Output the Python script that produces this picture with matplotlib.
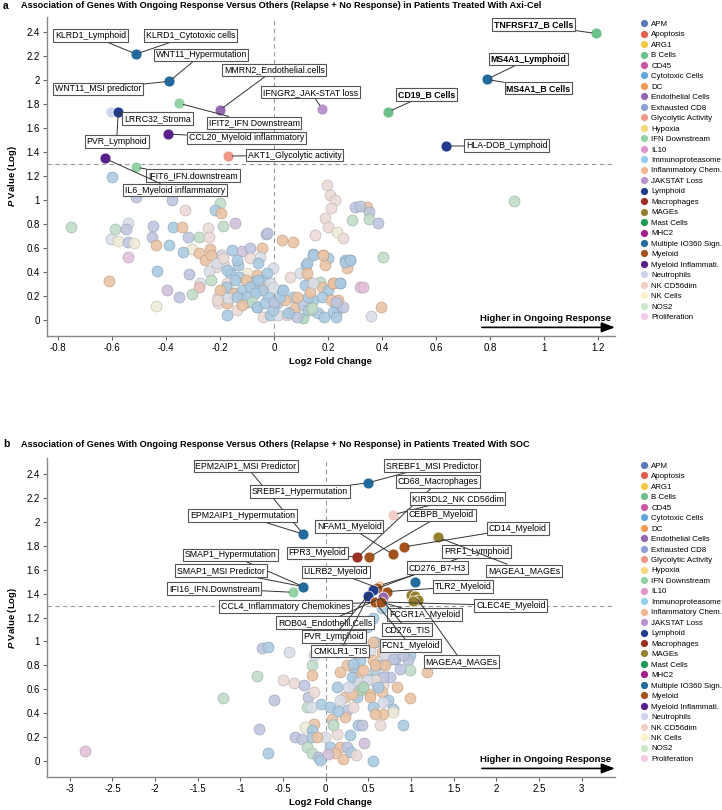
import matplotlib
matplotlib.use('Agg')
import numpy as np
from matplotlib import pyplot as plt
from matplotlib.lines import Line2D
from matplotlib.colors import to_rgb

plt.rcParams['font.family'] = ['Liberation Sans', 'DejaVu Sans']
plt.rcParams['mathtext.fontset'] = 'custom'
plt.rcParams['mathtext.bfit'] = 'Liberation Sans:italic:bold'

# 图例类别和颜色
categories = ['APM', 'Apoptosis', 'ARG1', 'B Cells', 'CD45', 'Cytotoxic Cells', 'DC',
              'Endothelial Cells', 'Exhausted CD8', 'Glycolytic Activity', 'Hypoxia',
              'IFN Downstream', 'IL10', 'Immunoproteasome', 'Inflammatory Chem.',
              'JAKSTAT Loss', 'Lymphoid', 'Macrophages', 'MAGEs', 'Mast Cells', 'MHC2',
              'Multiple IO360 Sign.', 'Myeloid', 'Myeloid Inflammati.', 'Neutrophils',
              'NK CD56dim', 'NK Cells', 'NOS2', 'Proliferation']
cat_colors = ['#5b78b8', '#e0604f', '#f3c845', '#6cc08a', '#c8589f', '#63a8dc', '#ef9a55',
              '#9466b0', '#8e9fd6', '#ef9a86', '#f6d77c', '#94d2a6', '#e196cc', '#93cdef',
              '#f2b790', '#b894cc', '#213c8c', '#9c2f23', '#958030', '#1f9a55', '#a2208c',
              '#226b9c', '#a2531e', '#58208a', '#cdd4ec', '#f2cec6', '#fbf2c6', '#cce8cc',
              '#f2cce6']
color_of = dict(zip(categories, cat_colors))

# 背景点的简写类别
short = {'lb': 'Cytotoxic Cells', 'lav': 'Exhausted CD8', 'lp': 'JAKSTAT Loss',
         'pe': 'DC', 'pg': 'IFN Downstream', 'pp': 'NK CD56dim',
         'py': 'NK Cells', 'w': 'Neutrophils', 'pk': 'IL10', 'sa': 'Glycolytic Activity',
         'g': 'B Cells'}

# ---------- a: Axi-Cel ----------
bg_a_x = [-0.600, -0.754, -0.514, -0.380, -0.201, -0.331, -0.220, -0.199, -0.541, -0.590,
          -0.549, -0.448, -0.374, -0.343, -0.244, -0.191, -0.144, -0.032, -0.605, -0.578,
          -0.541, -0.520, -0.454, -0.439, -0.389, -0.321, -0.278, -0.241, -0.304, -0.278,
          -0.237, -0.339, -0.542, -0.257, -0.198, -0.155, -0.118, -0.090, -0.047, -0.028,
          -0.090, -0.053, -0.133, -0.186, -0.217, -0.241, -0.164, -0.100, -0.065, -0.436,
          -0.315, -0.275, -0.235, -0.130, -0.611, -0.399, -0.278, -0.305, -0.353, -0.438,
          -0.207, -0.176, -0.158, -0.207, -0.176, -0.176, -0.139, -0.121, -0.084, -0.072,
          -0.041, -0.041, -0.016, -0.096, -0.065, -0.041, -0.016, -0.022, 0.009, 0.015,
          0.046, 0.058, 0.027, 0.070, 0.040, 0.077, 0.105, 0.107, 0.126, 0.144,
          0.138, 0.163, 0.126, 0.058, 0.095, 0.117, 0.130, 0.142, 0.182, 0.200,
          0.188, 0.169, 0.175, 0.200, 0.219, 0.225, 0.231, 0.256, 0.237, 0.243,
          0.262, 0.268, 0.280, 0.317, 0.299, 0.287, 0.194, 0.206, 0.225, 0.212,
          0.188, 0.200, 0.231, 0.256, 0.151, 0.027, 0.068, 0.889, 0.342, 0.318,
          0.352, 0.352, 0.385, 0.401, 0.330, 0.395, 0.358, -0.236, -0.195, -0.211,
          -0.174, -0.139, -0.191, -0.059, -0.146, -0.105, -0.179, -0.201, -0.149, -0.121,
          -0.090, -0.047, -0.006, -0.213, -0.170, -0.139, -0.102, -0.071, -0.084, -0.121,
          -0.065, -0.034, -0.006, 0.000, 0.021, 0.033, 0.083, 0.120, 0.120, 0.114,
          0.132, 0.145, 0.176, 0.144, 0.179, 0.216, 0.212, 0.227, 0.216, 0.228,
          0.185, 0.140, 0.083, 0.243, 0.262, 0.280, -0.006, -0.028, -0.059, 0.050]
bg_a_y = [1.190, 0.778, 1.028, 1.000, 0.972, 0.917, 0.917, 0.889, 0.811, 0.756,
          0.758, 0.783, 0.778, 0.778, 0.764, 0.783, 0.811, 0.717, 0.672, 0.661,
          0.647, 0.639, 0.689, 0.625, 0.625, 0.689, 0.689, 0.689, 0.589, 0.561,
          0.589, 0.569, 0.522, 0.500, 0.542, 0.583, 0.575, 0.597, 0.597, 0.722,
          0.514, 0.528, 0.458, 0.458, 0.444, 0.411, 0.389, 0.389, 0.375, 0.411,
          0.381, 0.311, 0.333, 0.361, 0.325, 0.250, 0.272, 0.217, 0.194, 0.117,
          0.194, 0.306, 0.222, 0.139, 0.139, 0.042, 0.083, 0.181, 0.319, 0.250,
          0.333, 0.278, 0.306, 0.153, 0.111, 0.028, 0.042, 0.194, 0.139, 0.042,
          0.042, 0.069, 0.250, 0.194, 0.167, 0.097, 0.014, 0.125, 0.083, 0.167,
          0.083, 0.056, 0.194, 0.361, 0.389, 0.458, 0.319, 0.550, 0.542, 0.514,
          0.458, 0.319, 0.278, 0.250, 0.306, 0.139, 0.083, 0.111, 0.167, 0.306,
          0.500, 0.431, 0.500, 0.278, 0.944, 0.833, 1.125, 1.042, 1.000, 0.931,
          0.847, 0.778, 0.736, 0.681, 0.708, 0.667, 0.653, 0.992, 0.944, 0.950,
          0.903, 0.839, 0.811, 0.528, 0.278, 0.111, 0.031, 0.542, 0.542, 0.472,
          0.417, 0.500, 0.514, 0.333, 0.333, 0.333, 0.278, 0.250, 0.222, 0.250,
          0.278, 0.250, 0.278, 0.167, 0.181, 0.194, 0.194, 0.222, 0.153, 0.125,
          0.111, 0.139, 0.083, 0.153, 0.194, 0.250, 0.194, 0.472, 0.389, 0.292,
          0.236, 0.306, 0.194, 0.542, 0.542, 0.306, 0.167, 0.153, 0.069, 0.028,
          0.028, 0.097, 0.028, 0.306, 0.486, 0.500, 0.431, 0.389, 0.472, 0.060]
bg_a_c = ['lb', 'pg', 'lav', 'lav', 'pg', 'pp', 'lb', 'pe', 'w', 'pg',
          'lav', 'lav', 'lb', 'pe', 'pp', 'pg', 'lp', 'lav', 'w', 'py',
          'lav', 'py', 'lav', 'pe', 'lb', 'lav', 'pg', 'pp', 'py', 'pe',
          'pe', 'lb', 'pk', 'pe', 'pp', 'lb', 'lp', 'lav', 'pe', 'lav',
          'pp', 'w', 'lb', 'w', 'pp', 'w', 'lb', 'py', 'pe', 'lb',
          'lav', 'w', 'pg', 'lb', 'pe', 'lp', 'sa', 'pg', 'lav', 'py',
          'w', 'pp', 'lb', 'pp', 'pe', 'lb', 'pp', 'lb', 'lb', 'lb',
          'lb', 'pe', 'w', 'lb', 'lb', 'pp', 'lb', 'lb', 'lb', 'w',
          'pp', 'lav', 'lb', 'lb', 'pe', 'pe', 'g', 'lav', 'lb', 'lb',
          'pg', 'lb', 'lb', 'pp', 'w', 'lb', 'pe', 'lb', 'pe', 'lb',
          'pe', 'pg', 'pe', 'lb', 'pe', 'lb', 'lb', 'lav', 'pe', 'lb',
          'lb', 'pe', 'lb', 'pk', 'lav', 'pg', 'pp', 'pp', 'pp', 'pp',
          'pp', 'pp', 'py', 'pp', 'pp', 'pe', 'pe', 'pg', 'pe', 'lav',
          'lav', 'pg', 'lav', 'pg', 'pk', 'pe', 'w', 'pe', 'w', 'w',
          'lb', 'lb', 'pp', 'lb', 'lb', 'pe', 'lb', 'pe', 'pe', 'lb',
          'lb', 'lb', 'w', 'pp', 'w', 'lb', 'lb', 'lb', 'pg', 'pe',
          'lb', 'lb', 'lb', 'lav', 'lb', 'lb', 'pe', 'lb', 'pe', 'lb',
          'pe', 'w', 'lb', 'lb', 'pe', 'pe', 'pe', 'lav', 'lb', 'lb',
          'lb', 'pg', 'lav', 'lb', 'lb', 'lb', 'w', 'lb', 'lb', 'lb']

hi_a_x = [-0.605, -0.512, -0.389, -0.352, -0.202, 0.178, -0.578, -0.392, -0.171, -0.627,
          -0.513, 1.191, 0.787, 0.422, 0.638]
hi_a_y = [1.736, 2.217, 1.990, 1.806, 1.750, 1.761, 1.731, 1.550, 1.367, 1.347,
          1.272, 2.389, 2.006, 1.736, 1.450]
hi_a_c = ['Neutrophils', 'Multiple IO360 Sign.', 'Multiple IO360 Sign.', 'IFN Downstream',
          'Endothelial Cells', 'JAKSTAT Loss', 'Lymphoid', 'Myeloid Inflammati.',
          'Glycolytic Activity', 'Myeloid Inflammati.', 'IFN Downstream', 'B Cells',
          'Multiple IO360 Sign.', 'B Cells', 'Lymphoid']

lab_a = ['KLRD1_Lymphoid', 'KLRD1_Cytotoxic cells', 'WNT11_Hypermutation', 'WNT11_MSI predictor',
         'MMRN2_Endothelial.cells', 'IFNGR2_JAK-STAT loss', 'LRRC32_Stroma',
         'IFIT2_IFN Downstream', 'PVR_Lymphoid', 'CCL20_Myeloid inflammatory',
         'AKT1_Glycolytic activity', 'IFIT6_IFN.downstream', 'IL6_Myeloid inflammatory',
         'TNFRSF17_B Cells', 'MS4A1_Lymphoid', 'MS4A1_B Cells', 'CD19_B Cells',
         'HLA-DOB_Lymphoid']
lab_a_tx = [-0.680, -0.309, -0.271, -0.654, 0.000, 0.135, -0.433, -0.075, -0.584, -0.104,
            0.076, -0.301, -0.368, 0.961, 0.942, 0.979, 0.563, 0.862]
lab_a_ty = [2.373, 2.373, 2.210, 1.927, 2.086, 1.899, 1.678, 1.642, 1.490, 1.518,
            1.375, 1.207, 1.083, 2.463, 2.175, 1.933, 1.878, 1.454]
lab_a_px = [-0.512, -0.512, -0.389, -0.389, -0.202, 0.178, -0.578, -0.352, -0.578, -0.392,
            -0.171, -0.513, -0.627, 1.191, 0.787, 0.787, 0.422, 0.638]
lab_a_py = [2.217, 2.217, 1.990, 1.990, 1.750, 1.761, 1.731, 1.806, 1.731, 1.550,
            1.367, 1.272, 1.347, 2.389, 2.006, 2.006, 1.736, 1.450]
bold_a = ['TNFRSF17_B Cells', 'MS4A1_Lymphoid', 'MS4A1_B Cells', 'CD19_B Cells']

# ---------- b: SOC ----------
bg_b_x = [-2.822, -1.208, -0.809, -0.750, -0.673, -0.427, -0.606, -0.778, -0.673, -0.504,
          -0.368, -0.254, -0.164, -0.158, -0.140, -0.204, -0.140, -0.059, -0.223, -0.168,
          0.050, -0.140, -0.245, -0.164, -0.361, -0.283, -0.223, -0.164, -0.164, -0.088,
          -0.070, 0.050, -0.008, 0.129, 0.168, 0.109, 0.246, 0.285, 0.383, 0.324,
          0.246, 0.168, 0.364, 0.129, 0.227, 0.364, 0.324, 0.168, 0.246, 0.324,
          0.227, 0.071, 0.090, -0.098, 0.129, 0.207, 0.363, 0.578, 0.402, 0.519,
          0.558, 0.441, 0.578, 0.675, 0.812, 0.871, 0.988, 0.968, 0.988, 1.184,
          0.656, 0.871, 0.675, 0.324, 0.305, 0.402, 0.519, 0.597, 0.675, 0.753,
          0.832, 0.656, 0.402, 0.304, 0.519, 0.266, 0.481, 0.559, 0.695, 0.793,
          0.910, 0.578, 0.695, 0.675, 0.578, 0.480, 0.441, 0.617, 0.734, 0.793,
          0.793, 0.675, 0.519, 0.559, 0.675, 0.578, 0.988, 0.910, 0.636, 0.422,
          0.559, 0.660, 0.560, 0.030, 0.200, 0.300, 0.450, 0.080, 0.150, 0.350]
bg_b_y = [0.086, 0.531, 0.711, 0.947, 0.953, 0.911, 0.508, 0.267, 0.064, 0.681,
          0.653, 0.639, 0.800, 0.717, 0.883, 0.536, 0.578, 0.481, 0.453, 0.453,
          0.453, 0.314, 0.286, 0.258, 0.203, 0.189, 0.119, 0.203, 0.064, 0.036,
          0.008, 0.119, 0.203, 0.231, 0.119, 0.064, 0.119, 0.217, 0.300, 0.786,
          0.800, 0.744, 0.703, 0.619, 0.536, 0.536, 0.619, 0.508, 0.425, 0.453,
          0.369, 0.356, 0.314, 0.203, 0.911, 0.939, 0.897, 0.994, 0.842, 0.925,
          0.842, 0.758, 0.758, 0.814, 0.856, 0.911, 0.883, 0.842, 0.758, 0.744,
          0.911, 0.772, 0.731, 0.814, 0.703, 0.661, 0.689, 0.647, 0.633, 0.703,
          0.619, 0.578, 0.592, 0.564, 0.564, 0.619, 1.119, 0.994, 0.883, 0.856,
          0.883, 0.800, 0.800, 0.703, 0.675, 0.675, 0.619, 0.619, 0.508, 0.439,
          0.411, 0.494, 0.536, 0.453, 0.397, 0.397, 0.531, 0.300, 0.300, 0.300,
          0.000, 1.280, 1.200, 0.060, 0.020, 0.080, 0.150, 0.300, 0.420, 0.050]
bg_b_c = ['pk', 'pg', 'pg', 'lav', 'lb', 'w', 'lav', 'lav', 'lb', 'pp',
          'pp', 'lav', 'pg', 'pe', 'w', 'lav', 'pp', 'lb', 'pg', 'w',
          'lb', 'pe', 'py', 'lb', 'lav', 'lav', 'pg', 'lb', 'pg', 'lav',
          'lb', 'lb', 'w', 'pp', 'pe', 'pe', 'lav', 'lb', 'lb', 'lb',
          'pe', 'pe', 'pe', 'lb', 'pe', 'lb', 'w', 'w', 'lav', 'pp',
          'pe', 'pe', 'w', 'pe', 'lb', 'pe', 'pe', 'lb', 'lb', 'w',
          'pe', 'pe', 'lb', 'lb', 'lb', 'w', 'lb', 'lav', 'pg', 'pe',
          'pe', 'lav', 'w', 'lb', 'lb', 'w', 'lb', 'lb', 'pp', 'lav',
          'pe', 'pe', 'g', 'pe', 'pe', 'w', 'lb', 'pe', 'w', 'lav',
          'lav', 'pe', 'pe', 'lav', 'pp', 'w', 'g', 'lb', 'lb', 'lb',
          'py', 'w', 'pe', 'lb', 'pe', 'pe', 'pe', 'lb', 'pp', 'lav',
          'lb', 'lb', 'lb', 'lp', 'pe', 'lb', 'lp', 'pg', 'lb', 'pp']

hi_b_x = [0.490, -0.262, 0.793, 0.371, 0.511, 0.783, 0.914, 1.322, -0.262, -0.380,
          1.043, 0.628, 0.600, 0.551, 0.500, 0.715, 0.668, 0.578, 0.650, 1.000,
          1.050, 1.080, 1.020]
hi_b_y = [2.325, 1.897, 2.060, 1.703, 1.705, 1.730, 1.790, 1.869, 1.458, 1.411,
          1.494, 1.467, 1.450, 1.430, 1.378, 1.417, 1.369, 1.328, 1.330, 1.390,
          1.380, 1.350, 1.340]
hi_b_c = ['Multiple IO360 Sign.', 'Multiple IO360 Sign.', 'NK CD56dim', 'Macrophages', 'Myeloid',
          'Myeloid', 'Myeloid', 'MAGEs', 'Multiple IO360 Sign.', 'IFN Downstream',
          'Multiple IO360 Sign.', 'Inflammatory Chem.', 'Myeloid', 'Lymphoid', 'Lymphoid',
          'Myeloid', 'Endothelial Cells', 'Myeloid', 'Myeloid', 'MAGEs',
          'MAGEs', 'MAGEs', 'MAGEs']

lab_b = ['EPM2AIP1_MSI Predictor', 'SREBF1_Hypermutation', 'EPM2AIP1_Hypermutation',
         'SREBF1_MSI Predictor', 'CD68_Macrophages', 'KIR3DL2_NK CD56dim', 'CEBPB_Myeloid',
         'NFAM1_Myeloid', 'FPR3_Myeloid', 'CD14_Myeloid', 'PRF1_Lymphoid', 'MAGEA1_MAGEs',
         'CD276_B7-H3', 'SMAP1_Hypermutation', 'SMAP1_MSI Predictor', 'IFI16_IFN.Downstream',
         'LILRB2_Myeloid', 'TLR2_Myeloid', 'CCL4_Inflammatory Chemokines', 'CLEC4E_Myeloid',
         'ROB04_Endothelil.Cells', 'FCGR1A_Myeloid', 'CD276_TIS', 'PVR_Lymphoid',
         'FCN1_Myeloid', 'CMKLR1_TIS', 'MAGEA4_MAGEs']
lab_b_tx = [-0.934, -0.299, -0.975, 1.248, 1.317, 1.545, 1.354, 0.275, -0.100, 2.253,
            1.770, 2.327, 1.311, -1.112, -1.229, -1.307, 0.119, 1.613, -0.471, 2.170,
            -0.008, 1.160, 0.953, 0.094, 0.994, 0.171, 1.594]
lab_b_ty = [2.465, 2.254, 2.054, 2.469, 2.335, 2.196, 2.057, 1.960, 1.740, 1.946,
            1.751, 1.590, 1.618, 1.723, 1.592, 1.443, 1.581, 1.460, 1.293, 1.300,
            1.157, 1.224, 1.099, 1.043, 0.965, 0.921, 0.832]
lab_b_px = [-0.262, 0.490, -0.262, 0.490, 0.371, 0.793, 0.511, 0.783, 0.371, 0.914,
            0.551, 1.322, 0.628, -0.262, -0.262, -0.380, 0.600, 0.715, 0.578, 0.650,
            0.668, 0.650, 0.600, 0.551, 0.578, 0.500, 1.050]
lab_b_py = [1.897, 2.325, 1.897, 2.325, 1.703, 2.060, 1.705, 1.730, 1.703, 1.790,
            1.430, 1.869, 1.467, 1.458, 1.458, 1.411, 1.450, 1.417, 1.328, 1.330,
            1.369, 1.330, 1.400, 1.430, 1.328, 1.378, 1.380]


def faded(col):
    # 把类别颜色和浅灰混合，得到背景点的淡色
    rgb = np.array(to_rgb(col))
    face = 0.45 * rgb + 0.55 * np.array([0.9, 0.9, 0.9])
    edge = face * 0.82
    return face, edge


def draw_panel(ax, bgx, bgy, bgc, hx, hy, hc, labs, tx, ty, px, py, bold, xlim, xticks, title, letter, fig_y):
    # 背景淡色点
    for x, y, c in zip(bgx, bgy, bgc):
        face, edge = faded(color_of[short[c]])
        ax.scatter(x, y, s=62, facecolor=face, edgecolor=edge, linewidth=0.5, alpha=0.9, zorder=2)
    # 显著点
    for x, y, c in zip(hx, hy, hc):
        ax.scatter(x, y, s=62, facecolor=color_of[c], edgecolor='white', linewidth=0.5, zorder=4)
    ax.axhline(1.3, color='#999999', ls=(0, (4, 3)), lw=0.8, zorder=1)
    ax.axvline(0, color='#999999', ls=(0, (4, 3)), lw=0.8, zorder=1)
    for lab, x0, y0, x1, y1 in zip(labs, tx, ty, px, py):
        ax.annotate(lab, xy=(x1, y1), xytext=(x0, y0), ha='center', va='center', fontsize=6.3,
                    fontweight='bold' if lab in bold else 'normal', zorder=6,
                    bbox=dict(boxstyle='square,pad=0.2', fc='white', ec='#555555', lw=0.8),
                    arrowprops=dict(arrowstyle='-', color='#333333', lw=0.7, shrinkA=0, shrinkB=3))
    ax.set_xlim(xlim)
    ax.set_ylim(-0.13, 2.53)
    ax.set_xticks(xticks)
    ax.set_yticks(np.arange(0, 2.41, 0.2))
    fmt = matplotlib.ticker.FuncFormatter(lambda v, p: f'{v:.10g}' if abs(v) > 1e-9 else '0')
    ax.xaxis.set_major_formatter(fmt)
    ax.yaxis.set_major_formatter(fmt)
    ax.tick_params(labelsize=7, length=3, color='#666666', width=0.8, pad=2)
    for s in ['top', 'right']:
        ax.spines[s].set_visible(False)
    for s in ['left', 'bottom']:
        ax.spines[s].set_color('#888888')
        ax.spines[s].set_linewidth(1.0)
    ax.set_xlabel('Log2 Fold Change', fontsize=6.8, fontweight='bold', labelpad=3)
    ax.set_ylabel(r'$\mathbfit{P}$ Value (Log)', fontsize=6.8, fontweight='bold', labelpad=5)
    # 箭头
    ax.annotate('', xy=(1.0, 0.026), xytext=(0.766, 0.026), xycoords='axes fraction',
                arrowprops=dict(arrowstyle='-|>,head_length=0.8,head_width=0.3', color='black', lw=1.2,
                                shrinkA=0, shrinkB=0))
    ax.text(0.877, 0.055, 'Higher in Ongoing Response', transform=ax.transAxes, ha='center',
            va='center', fontsize=6.8, fontweight='bold')
    fig.text(0.004, fig_y, letter, fontsize=7.5, fontweight='bold', va='center', ha='left')
    fig.text(0.029, fig_y, title, fontsize=6.6, fontweight='bold', va='center', ha='left')
    handles = [Line2D([], [], ls='', marker='o', ms=5.2, mfc=c, mec='none') for c in cat_colors]
    ax.legend(handles, categories, loc='upper left', bbox_to_anchor=(1.046, 0.988), frameon=False,
              fontsize=5.7, handlelength=0.8, handletextpad=0.5, labelspacing=0.37, borderpad=0.0,
              borderaxespad=0.0)


fig = plt.figure(figsize=(7.22, 8.10), dpi=100)
ax_a = fig.add_axes([0.0647, 0.5856, 0.787, 0.394])
ax_b = fig.add_axes([0.0647, 0.0411, 0.787, 0.393])

draw_panel(ax_a, bg_a_x, bg_a_y, bg_a_c, hi_a_x, hi_a_y, hi_a_c, lab_a, lab_a_tx, lab_a_ty,
           lab_a_px, lab_a_py, bold_a, (-0.843, 1.262), np.arange(-0.8, 1.21, 0.2),
           'Association of Genes With Ongoing Response Versus Others (Relapse + No Response) in Patients Treated With Axi-Cel',
           'a', 0.9926)
draw_panel(ax_b, bg_b_x, bg_b_y, bg_b_c, hi_b_x, hi_b_y, hi_b_c, lab_b, lab_b_tx, lab_b_ty,
           lab_b_px, lab_b_py, [], (-3.27, 3.39), np.arange(-3, 3.01, 0.5),
           'Association of Genes With Ongoing Response Versus Others (Relapse + No Response) in Patients Treated With SOC',
           'b', 0.4515)

fig.savefig('out.png', dpi=100)
